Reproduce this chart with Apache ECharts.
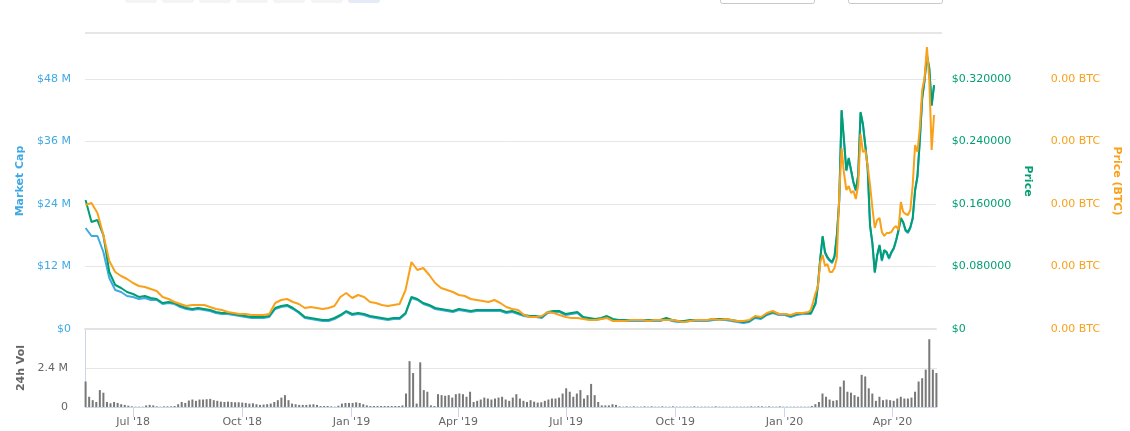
<!DOCTYPE html>
<html><head><meta charset="utf-8">
<script src="https://cdn.jsdelivr.net/npm/echarts@6/dist/echarts.min.js"></script>
<style>html,body{margin:0;padding:0;background:#fff}#chart{width:1130px;height:431px}</style>
</head><body><div id="chart"></div>
<script>
// ---- sampling of the series (days after 2018-05-22) ----
const startDate = [2018, 4, 22];
const lineStepA = 5, lineEndA = 610, lineStartB = 612, lineStepB = 2, lineEndB = 716;
const volStep = 3, volEnd = 717;

// Market cap, millions USD
const marketCapM = [
19.39,17.86,17.86,14.78,9.79,7.49,7.10,6.34,6.14,5.76,
5.95,5.57,5.57,4.80,4.99,4.80,4.22,3.84,3.65,3.84,
3.65,3.46,3.07,2.88,2.88,2.69,2.50,2.30,2.11,2.11,
2.11,2.30,3.84,4.22,4.42,3.84,3.07,2.11,1.92,1.73,
1.54,1.54,1.92,2.50,3.26,2.69,2.88,2.69,2.30,2.11,
1.92,1.73,1.92,1.92,2.88,5.95,5.57,4.80,4.42,3.84,
3.65,3.46,3.26,3.65,3.46,3.26,3.46,3.46,3.46,3.46,
3.46,3.07,3.26,2.88,2.50,2.30,2.30,2.11,3.07,3.26,
3.26,2.69,2.88,3.07,2.11,1.92,1.73,1.92,2.30,1.73,
1.54,1.54,1.54,1.54,1.54,1.54,1.54,1.54,1.92,1.54,
1.34,1.34,1.54,1.54,1.54,1.54,1.73,1.73,1.73,1.54,
1.34,1.15,1.34,2.11,1.92,2.69,3.07,2.69,2.69,2.30,
2.69,2.88,2.88,
2.88,3.84,4.80,8.26,13.44,17.66,14.59,13.63,13.06,12.67,
13.82,17.86,24.58,41.86,36.10,30.34,32.64,30.34,28.03,26.50,
29.38,41.47,39.17,35.14,30.72,19.78,16.32,10.75,14.02,15.94,
13.06,14.98,14.59,13.44,14.59,15.36,16.90,18.82,21.12,20.35,
18.82,18.43,19.39,21.12,26.50,29.18,36.10,44.16,47.62,52.42,
49.92,42.82,46.66
];

// Price, USD
const priceUsd = [
0.1651,0.1370,0.1395,0.1203,0.0730,0.0563,0.0525,0.0474,0.0448,0.0410,
0.0422,0.0397,0.0384,0.0333,0.0346,0.0333,0.0294,0.0269,0.0256,0.0269,
0.0256,0.0243,0.0218,0.0205,0.0205,0.0192,0.0179,0.0166,0.0154,0.0154,
0.0154,0.0166,0.0269,0.0294,0.0307,0.0269,0.0218,0.0154,0.0141,0.0128,
0.0115,0.0115,0.0141,0.0179,0.0230,0.0192,0.0205,0.0192,0.0166,0.0154,
0.0141,0.0128,0.0141,0.0141,0.0205,0.0410,0.0384,0.0333,0.0307,0.0269,
0.0256,0.0243,0.0230,0.0256,0.0243,0.0230,0.0243,0.0243,0.0243,0.0243,
0.0243,0.0218,0.0230,0.0205,0.0179,0.0166,0.0166,0.0154,0.0218,0.0230,
0.0230,0.0192,0.0205,0.0218,0.0154,0.0141,0.0128,0.0141,0.0166,0.0128,
0.0115,0.0115,0.0115,0.0115,0.0115,0.0115,0.0115,0.0115,0.0141,0.0115,
0.0102,0.0102,0.0115,0.0115,0.0115,0.0115,0.0128,0.0128,0.0128,0.0115,
0.0102,0.0090,0.0102,0.0154,0.0141,0.0192,0.0218,0.0192,0.0192,0.0166,
0.0192,0.0205,0.0205,
0.0205,0.0269,0.0333,0.0563,0.0909,0.1190,0.0986,0.0922,0.0883,0.0858,
0.0934,0.1203,0.1651,0.2803,0.2419,0.2035,0.2189,0.2035,0.1882,0.1779,
0.1971,0.2778,0.2624,0.2355,0.2061,0.1331,0.1101,0.0730,0.0947,0.1075,
0.0883,0.1011,0.0986,0.0909,0.0986,0.1037,0.1139,0.1267,0.1421,0.1370,
0.1267,0.1242,0.1306,0.1421,0.1779,0.1958,0.2419,0.2957,0.3187,0.3507,
0.3341,0.2867,0.3123
];

// Price in BTC, satoshi
const priceBtcSat = [
1984,2016,1856,1504,1088,912,848,800,736,688,
672,640,608,512,480,432,400,368,384,384,
384,352,320,304,272,256,240,240,224,224,
224,240,416,464,480,432,400,336,352,336,
320,336,368,512,576,496,544,512,432,416,
384,368,384,400,624,1072,944,976,864,736,
656,624,592,544,528,480,464,448,432,464,
416,352,320,304,224,192,192,208,272,256,
224,192,176,176,160,144,144,160,176,128,
128,128,144,144,144,128,144,144,144,144,
128,112,128,144,144,144,160,144,160,144,
128,128,144,208,192,256,288,240,240,224,
256,256,272,
304,432,576,672,1072,1184,1008,1040,912,912,
976,1136,2144,2896,2496,2224,2288,2176,2208,2080,
2304,3120,2832,2864,2608,2304,1936,1616,1744,1776,
1552,1488,1536,1536,1552,1616,1648,1584,2032,1872,
1840,1824,1904,2304,2944,2832,3216,3824,4016,4512,
3984,2864,3424
];

// 24h volume, millions USD
const volumeM = [
1.57,0.63,0.42,0.31,1.04,0.88,0.31,0.23,0.31,0.25,
0.17,0.13,0.08,0.04,0.02,0.02,0.02,0.10,0.13,0.10,
0.04,0.02,0.04,0.04,0.04,0.06,0.17,0.31,0.25,0.40,
0.46,0.38,0.46,0.46,0.48,0.50,0.42,0.38,0.33,0.31,
0.33,0.31,0.29,0.29,0.27,0.25,0.21,0.23,0.17,0.13,
0.15,0.17,0.21,0.31,0.42,0.58,0.73,0.42,0.21,0.17,
0.13,0.13,0.13,0.15,0.17,0.13,0.06,0.06,0.06,0.04,
0.02,0.08,0.21,0.25,0.25,0.25,0.29,0.25,0.17,0.10,
0.06,0.06,0.06,0.06,0.06,0.06,0.06,0.06,0.06,0.10,
0.83,2.82,2.09,0.21,2.75,1.04,0.94,0.10,0.06,0.79,
0.73,0.69,0.73,0.58,0.79,0.83,0.79,0.63,0.94,0.31,
0.38,0.46,0.58,0.52,0.46,0.52,0.58,0.63,0.46,0.38,
0.58,0.79,0.52,0.38,0.31,0.42,0.33,0.27,0.29,0.38,
0.46,0.52,0.52,0.58,0.83,1.15,0.94,0.63,0.83,1.04,
0.52,0.73,1.42,0.73,0.31,0.10,0.10,0.10,0.17,0.13,
0.04,0.02,0.04,0.02,0.04,0.02,0.02,0.04,0.02,0.04,
0.02,0.02,0.04,0.02,0.02,0.04,0.02,0.02,0.02,0.02,
0.02,0.04,0.02,0.02,0.02,0.02,0.02,0.04,0.02,0.02,
0.02,0.02,0.02,0.02,0.02,0.02,0.02,0.04,0.02,0.04,
0.04,0.02,0.04,0.02,0.02,0.04,0.02,0.02,0.02,0.02,
0.02,0.02,0.02,0.02,0.06,0.17,0.31,0.83,0.63,0.46,
0.38,0.42,1.25,1.63,0.94,0.88,0.73,0.63,1.98,1.88,
1.15,0.83,0.38,0.63,0.42,0.46,0.42,0.38,0.52,0.63,
0.52,0.52,0.58,0.94,1.57,1.77,2.30,4.17,2.30,2.09
];

const tickDates = [[2018,6,1],[2018,9,1],[2019,0,1],[2019,3,1],[2019,6,1],[2019,9,1],[2020,0,1],[2020,3,1]];
const tickLabels = ["Jul '18","Oct '18","Jan '19","Apr '19","Jul '19","Oct '19","Jan '20","Apr '20"];

// ---- build ----
const DAY = 86400000;
const t0 = Date.UTC(startDate[0], startDate[1], startDate[2]);
const lineDays = [];
for (let d = 0; d <= lineEndA; d += lineStepA) lineDays.push(d);
for (let d = lineStartB; d <= lineEndB; d += lineStepB) lineDays.push(d);
const volDays = [];
for (let d = 0; d <= volEnd; d += volStep) volDays.push(d);
const pair = (days, vals) => vals.map((v, i) => [t0 + days[i] * DAY, v]);
const tickTimes = tickDates.map(d => Date.UTC(d[0], d[1], d[2]));
const xMin = t0 - 0.5 * DAY, xMax = t0 + 717.5 * DAY;

const BLUE = '#3fa9e4', GREEN = '#009e73', ORANGE = '#f9a11b', GREY = '#666666';
const FONT = 'DejaVu Sans';
const mcMax = 56.83, prMax = 0.37888, btcMax = 4736;

const chart = echarts.init(document.getElementById('chart'), null, {renderer: 'canvas'});
chart.setOption({
  animation: false,
  textStyle: {fontFamily: FONT},
  grid: [
    {left: 85, right: 193, top: 33, height: 296},
    {left: 85, right: 193, top: 329, height: 78}
  ],
  xAxis: [
    {type: 'value', gridIndex: 0, min: xMin, max: xMax, scale: true,
     axisLine: {show: true, lineStyle: {color: '#e3e3e3', width: 2}},
     axisTick: {show: false}, axisLabel: {show: false}, splitLine: {show: false}},
    {type: 'value', gridIndex: 1, min: xMin, max: xMax, scale: true,
     axisLine: {show: true, lineStyle: {color: '#ccd6eb', width: 1}},
     axisTick: {show: true, customValues: tickTimes, length: 10, lineStyle: {color: '#ccd6eb'}},
     axisLabel: {customValues: tickTimes, color: GREY, fontSize: 11, fontFamily: FONT, margin: 10,
       formatter: v => { const k = tickTimes.indexOf(v); return k >= 0 ? tickLabels[k] : ''; }},
     splitLine: {show: false}}
  ],
  yAxis: [
    {type: 'value', gridIndex: 0, position: 'left', min: 0, max: mcMax, interval: 12,
     name: 'Market Cap', nameLocation: 'middle', nameGap: 54,
     nameTextStyle: {color: BLUE, fontWeight: 'bold', fontSize: 11, fontFamily: FONT},
     axisLine: {show: false}, axisTick: {show: false},
     axisLabel: {color: BLUE, fontSize: 11, fontFamily: FONT, margin: 14, showMaxLabel: false,
       formatter: v => v === 0 ? '$0' : '$' + v + ' M'},
     splitLine: {show: true, lineStyle: {color: '#e6e6e6', width: 1}}},
    {type: 'value', gridIndex: 0, position: 'right', min: 0, max: prMax, interval: 0.08,
     name: 'Price', nameLocation: 'middle', nameGap: 76, nameRotate: -90,
     nameTextStyle: {color: GREEN, fontWeight: 'bold', fontSize: 11, fontFamily: FONT},
     axisLine: {show: false}, axisTick: {show: false},
     axisLabel: {color: GREEN, fontSize: 11, fontFamily: FONT, margin: 16, showMaxLabel: false,
       formatter: v => v === 0 ? '$0' : '$' + v.toFixed(6)},
     splitLine: {show: false}},
    {type: 'value', gridIndex: 0, position: 'right', offset: 99, min: 0, max: btcMax, interval: 1000,
     name: 'Price (BTC)', nameLocation: 'middle', nameGap: 67, nameRotate: -90,
     nameTextStyle: {color: ORANGE, fontWeight: 'bold', fontSize: 11, fontFamily: FONT},
     axisLine: {show: false}, axisTick: {show: false},
     axisLabel: {color: ORANGE, fontSize: 11, fontFamily: FONT, margin: 16, showMaxLabel: false,
       formatter: v => (v / 1e8).toFixed(2) + ' BTC'},
     splitLine: {show: false}},
    {type: 'value', gridIndex: 1, position: 'left', min: 0, max: 4.8, interval: 2.4,
     name: '24h Vol', nameLocation: 'middle', nameGap: 49,
     nameTextStyle: {color: GREY, fontWeight: 'bold', fontSize: 11, fontFamily: FONT},
     axisLine: {show: true, lineStyle: {color: '#ccd6eb', width: 1}}, axisTick: {show: false},
     axisLabel: {color: GREY, fontSize: 11, fontFamily: FONT, margin: 17, showMaxLabel: false,
       formatter: v => v === 0 ? '0' : v + ' M'},
     splitLine: {show: true, lineStyle: {color: '#e6e6e6', width: 1}}}
  ],
  graphic: [
    {type: 'line', shape: {x1: 85, y1: 33, x2: 942, y2: 33}, style: {stroke: '#e6e6e6', lineWidth: 2}, silent: true},
    ...[125, 162, 199, 236, 273, 311, 348].map((x, k) => ({
      type: 'rect', shape: {x: x, y: -6, width: 32, height: 9, r: 3},
      style: {fill: k === 6 ? '#e5eaf7' : '#f4f4f6'}, silent: true})),
    ...[720, 848].map(x => ({
      type: 'rect', shape: {x: x + 0.5, y: -6, width: 94, height: 9.5, r: 2},
      style: {fill: '#fff', stroke: '#c8c8c8', lineWidth: 1}, silent: true}))
  ],
  series: [
    {name: 'Market Cap', type: 'line', xAxisIndex: 0, yAxisIndex: 0, data: pair(lineDays, marketCapM),
     showSymbol: false, symbol: 'none', lineStyle: {color: BLUE, width: 2}, itemStyle: {color: BLUE}},
    {name: 'Price', type: 'line', xAxisIndex: 0, yAxisIndex: 1, data: pair(lineDays, priceUsd),
     showSymbol: false, symbol: 'none', lineStyle: {color: GREEN, width: 2}, itemStyle: {color: GREEN}},
    {name: 'Price (BTC)', type: 'line', xAxisIndex: 0, yAxisIndex: 2, data: pair(lineDays, priceBtcSat),
     showSymbol: false, symbol: 'none', lineStyle: {color: ORANGE, width: 2}, itemStyle: {color: ORANGE}},
    {name: '24h Vol', type: 'bar', xAxisIndex: 1, yAxisIndex: 3, data: pair(volDays, volumeM),
     barWidth: 2, itemStyle: {color: '#787878'}}
  ]
});
</script>
</body></html>
